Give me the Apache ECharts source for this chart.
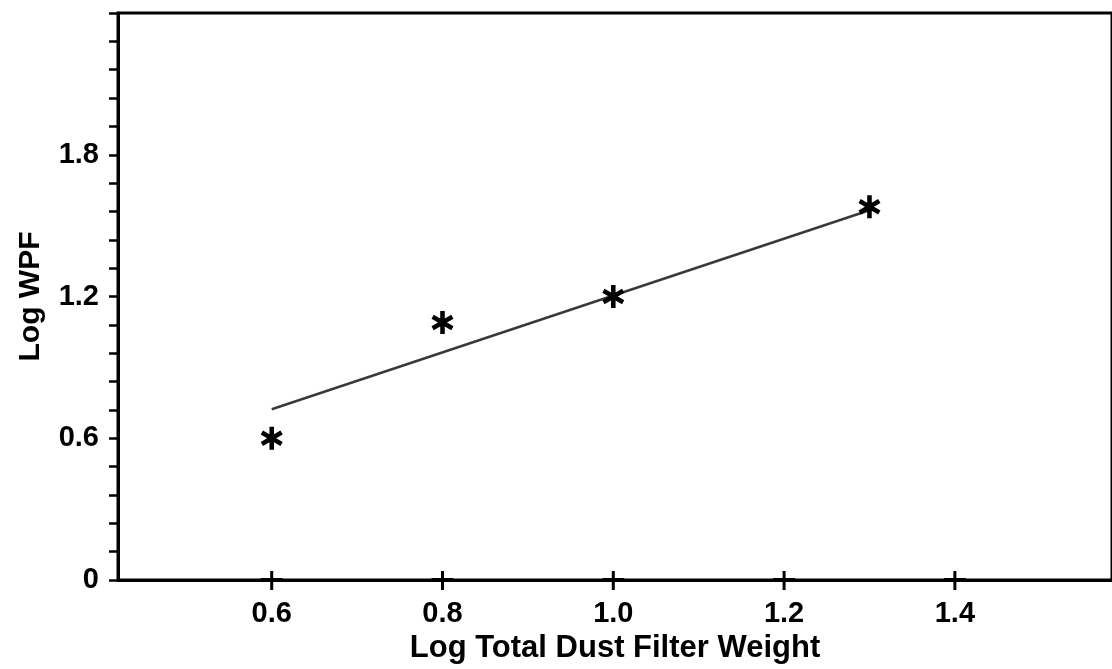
<!DOCTYPE html>
<html>
<head>
<meta charset="utf-8">
<script src="https://cdn.jsdelivr.net/npm/echarts@6/dist/echarts.min.js"></script>
<style>
  html, body { margin: 0; padding: 0; background: #fff; }
  #chart { width: 1112px; height: 669px; }
</style>
</head>
<body>
<div id="chart"></div>
<script>
// Measured samples: log total dust filter weight vs log WPF
const dustWeight = [0.6, 0.8, 1.0, 1.3];
const logWPF = [0.6, 1.09, 1.2, 1.58];

// Fitted trend line end points
const fitX = [0.6, 1.3];
const fitY = [0.723, 1.565];

// Axis tick values
const xTickValues = [0.6, 0.8, 1.0, 1.2, 1.4];
const yLabelValues = [0, 0.6, 1.2, 1.8];
const yMinorStep = 0.12;
const yMax = 2.4;

const FONT = '"Liberation Sans", Arial, Helvetica, sans-serif';

// Six-armed asterisk built from three rotated bars
const STAR = 'path://M-2.2,11 L-2.2,-11 L2.2,-11 L2.2,11 Z ' +
  'M8.426,7.405 L-10.626,-3.595 L-8.426,-7.405 L10.626,3.595 Z ' +
  'M-10.626,3.595 L8.426,-7.405 L10.626,-3.595 L-8.426,7.405 Z';

const yTickValues = [];
for (let i = 0; i * yMinorStep <= yMax + 1e-9; i++) {
  yTickValues.push(+(i * yMinorStep).toFixed(2));
}

const points = dustWeight.map((x, i) => [x, logWPF[i]]);
const fitLine = fitX.map((x, i) => [x, fitY[i]]);
const xTickMarks = xTickValues.map(v => [v, 0]);

const chart = echarts.init(document.getElementById('chart'), null, { renderer: 'canvas' });

const xMin = 0.42, xMax = 1.584;

// Cross-shaped tick drawn over the x axis line at each tick value
function renderCrossTick(params, api) {
  const p = api.coord([api.value(0), api.value(1)]);
  return {
    type: 'group',
    children: [
      { type: 'rect', shape: { x: p[0] - 1.5, y: p[1] - 9, width: 3, height: 19 },
        style: { fill: '#000' } },
      { type: 'rect', shape: { x: p[0] - 11, y: p[1] - 2, width: 22, height: 4 },
        style: { fill: '#000' } }
    ]
  };
}

chart.setOption({
  animation: false,
  backgroundColor: '#fff',
  grid: {
    left: 118, right: -3, top: 13, bottom: 89,
    show: true, borderColor: '#000', borderWidth: 3, backgroundColor: 'transparent'
  },
  xAxis: {
    type: 'value', min: xMin, max: xMax,
    name: 'Log Total Dust Filter Weight',
    nameLocation: 'middle', nameGap: 50,
    nameTextStyle: { fontFamily: FONT, fontWeight: 'bold', fontSize: 31, color: '#000' },
    axisLine: { show: true, lineStyle: { color: '#000', width: 3 } },
    axisTick: { show: false },
    axisLabel: { show: true, customValues: xTickValues, margin: 19,
      formatter: v => v.toFixed(1),
      fontFamily: FONT, fontWeight: 'bold', fontSize: 29, color: '#000' },
    splitLine: { show: false }
  },
  yAxis: {
    type: 'value', min: 0, max: yMax,
    name: 'Log WPF',
    nameLocation: 'middle', nameGap: 72,
    nameTextStyle: { fontFamily: FONT, fontWeight: 'bold', fontSize: 30, color: '#000' },
    axisLine: { show: true, lineStyle: { color: '#000', width: 3 } },
    axisTick: { show: true, inside: false, length: 9, customValues: yTickValues,
      lineStyle: { color: '#000', width: 2.5 } },
    axisLabel: { show: true, customValues: yLabelValues, margin: 19,
      formatter: v => (v === 0 ? '0' : v.toFixed(1)),
      fontFamily: FONT, fontWeight: 'bold', fontSize: 29, color: '#000' },
    splitLine: { show: false }
  },
  series: [
    {
      type: 'custom', data: xTickMarks, renderItem: renderCrossTick,
      clip: false, silent: true, z: 4
    },
    {
      type: 'line', data: fitLine,
      showSymbol: false, symbol: 'none',
      lineStyle: { color: '#3a3a3a', width: 2.5 },
      z: 2
    },
    {
      type: 'scatter', data: points,
      symbol: STAR, symbolSize: [22, 23],
      itemStyle: { color: '#000', opacity: 1 },
      z: 3
    }
  ]
});
</script>
</body>
</html>
